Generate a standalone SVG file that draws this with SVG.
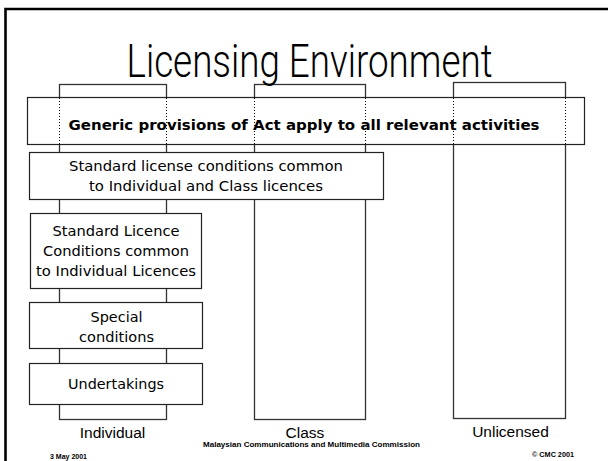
<svg xmlns="http://www.w3.org/2000/svg" width="608" height="461" viewBox="0 0 608 461">
<style>
.box{fill:#fff;stroke:#222;stroke-width:1.2}
.col{fill:#fff;stroke:#333;stroke-width:1.3}
.dot{stroke:#000;stroke-width:1;stroke-dasharray:1 2;fill:none}
.t{font-family:"DejaVu Sans","Liberation Sans",sans-serif;font-size:14px;fill:#000;text-anchor:middle}
.b{font-family:"DejaVu Sans","Liberation Sans",sans-serif;font-size:14px;font-weight:bold;fill:#000;text-anchor:middle}
.lab{font-family:"Liberation Sans",Arial,sans-serif;font-size:15.5px;fill:#000;text-anchor:middle}
.f{font-family:"Liberation Sans",Arial,sans-serif;font-size:7px;font-weight:bold;fill:#000}
</style>
<rect width="608" height="461" fill="#fff"/>
<path d="M5.5,461 V9 H608" fill="none" stroke="#000" stroke-width="2.6"/>

<g id="connectors">
  <rect id="col-individual" class="col" x="59.5" y="84.5" width="107" height="335"/>
  <rect id="col-class" class="col" x="254.5" y="84.5" width="111" height="335"/>
  <rect id="col-unlicensed" class="col" x="453.5" y="82.5" width="112" height="336"/>
</g>

<g id="title">
  <text x="309.5" y="77" font-family="Roboto, 'Liberation Sans', sans-serif" font-weight="300" font-size="46" textLength="366" lengthAdjust="spacingAndGlyphs" text-anchor="middle" fill="#000">Licensing Environment</text>
</g>

<g id="generic">
  <rect class="box" x="27.5" y="97.5" width="557" height="47"/>
  <path class="dot" d="M59.5,98 V144 M166.5,98 V144 M254.5,98 V144 M365.5,98 V144 M453.5,98 V144 M565.5,98 V144"/>
  <text class="b" x="304" y="130" textLength="471" lengthAdjust="spacingAndGlyphs">Generic provisions of Act apply to all relevant activities</text>
</g>

<g id="standard-common">
  <rect class="box" x="29.5" y="152.5" width="354" height="47"/>
  <text class="t" x="206" y="171" textLength="274" lengthAdjust="spacingAndGlyphs">Standard license conditions common</text>
  <text class="t" x="206" y="191" textLength="234" lengthAdjust="spacingAndGlyphs">to Individual and Class licences</text>
</g>

<g id="standard-individual">
  <rect class="box" x="30.5" y="213.5" width="171" height="75"/>
  <text class="t" x="116" y="236" textLength="127" lengthAdjust="spacingAndGlyphs">Standard Licence</text>
  <text class="t" x="116" y="256" textLength="146" lengthAdjust="spacingAndGlyphs">Conditions common</text>
  <text class="t" x="116" y="276" textLength="160" lengthAdjust="spacingAndGlyphs">to Individual Licences</text>
</g>

<g id="special">
  <rect class="box" x="29.5" y="302.5" width="173" height="46"/>
  <text class="t" x="116.5" y="322" textLength="52" lengthAdjust="spacingAndGlyphs">Special</text>
  <text class="t" x="116.5" y="342" textLength="75" lengthAdjust="spacingAndGlyphs">conditions</text>
</g>

<g id="undertakings">
  <rect class="box" x="29.5" y="363.5" width="173" height="41"/>
  <text class="t" x="116" y="389" textLength="96" lengthAdjust="spacingAndGlyphs">Undertakings</text>
</g>

<g id="labels">
  <text class="lab" x="112.5" y="438">Individual</text>
  <text class="lab" x="305" y="438">Class</text>
  <text class="lab" x="510.5" y="437">Unlicensed</text>
</g>

<g id="footer">
  <text class="f" x="50" y="459">3 May 2001</text>
  <text class="f" x="203" y="447" textLength="217" lengthAdjust="spacingAndGlyphs">Malaysian Communications and Multimedia Commission</text>
  <text class="f" x="532" y="457" textLength="42" lengthAdjust="spacingAndGlyphs">© CMC 2001</text>
</g>
</svg>
